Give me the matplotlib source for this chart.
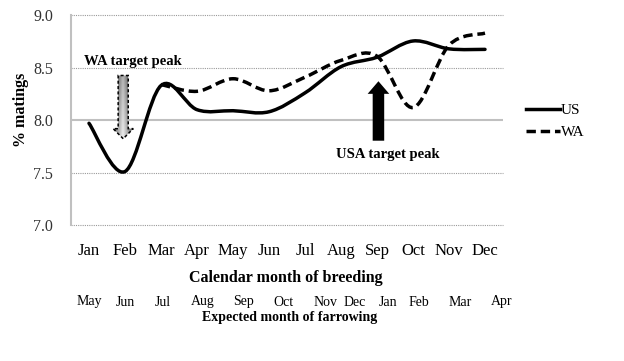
import numpy as np
import matplotlib
matplotlib.use("Agg")
import matplotlib.pyplot as plt
from matplotlib.path import Path
from matplotlib.patches import PathPatch, FancyArrow
from matplotlib.lines import Line2D
from matplotlib import transforms

plt.rcParams['font.family'] = ['Liberation Serif', 'DejaVu Serif']

# Data
months = ['Jan', 'Feb', 'Mar', 'Apr', 'May', 'Jun',
          'Jul', 'Aug', 'Sep', 'Oct', 'Nov', 'Dec']
farrow_months = ['May', 'Jun', 'Jul', 'Aug', 'Sep', 'Oct',
                 'Nov', 'Dec', 'Jan', 'Feb', 'Mar', 'Apr']
us_pct = [7.97, 7.51, 8.33, 8.10, 8.09, 8.08, 8.26, 8.51, 8.60, 8.755, 8.68, 8.675]
wa_pct = [np.nan, np.nan, 8.34, 8.275, 8.395, 8.28, 8.41, 8.57, 8.61, 8.12, 8.715, 8.83]
y_ticks = [7.0, 7.5, 8.0, 8.5, 9.0]

# Layout (category units for the farrowing row, which is unevenly spaced)
farrow_pos = [0.0, 1.0, 2.06, 3.15, 4.29, 5.40, 6.57, 7.38, 8.30, 9.16, 10.31, 11.45]


def smooth_path(x, y):
    '''Excel-like smoothed line: cubic Bezier segments through the points.'''
    pts = np.column_stack([x, y])
    n = len(pts)
    verts = [pts[0]]
    codes = [Path.MOVETO]
    for i in range(n - 1):
        p_prev = pts[max(i - 1, 0)]
        p_next2 = pts[min(i + 2, n - 1)]
        c1 = pts[i] + (pts[i + 1] - p_prev) / 6
        c2 = pts[i + 1] - (p_next2 - pts[i]) / 6
        verts += [c1, c2, pts[i + 1]]
        codes += [Path.CURVE4] * 3
    return Path(verts, codes)


fig = plt.figure(figsize=(6.24, 3.61), dpi=100)
ax = fig.add_axes([71 / 624, 1 - 225 / 361, 432 / 624, 209.7 / 361])
ax.set_xlim(-0.5, 11.5)
ax.set_ylim(7.0, 9.0)

# gridlines
for yv in y_ticks:
    if yv == 8.0:
        ax.axhline(yv, color='#c0c0c0', lw=1.5, zorder=1)
    else:
        ax.axhline(yv, color='#9a9a9a', lw=0.8, ls=(0, (1, 1)), zorder=1,
                   clip_on=False)

x = np.arange(len(months))
us = np.array(us_pct)
wa = np.array(wa_pct)
ok = ~np.isnan(wa)

line_lw = 2.5
wa_dash = (0, (2.7, 1.4))
ax.add_patch(PathPatch(smooth_path(x, us), fill=False, color='black',
                       lw=line_lw, zorder=4, capstyle='round'))
ax.add_patch(PathPatch(smooth_path(x[ok], wa[ok]), fill=False, color='black',
                       lw=line_lw, ls=wa_dash, zorder=4))

# WA target arrow (grey gradient, dashed outline)
wa_arrow = FancyArrow(0.95, 8.426, 0, -0.603, width=0.28, head_width=0.56,
                      head_length=0.096, length_includes_head=True,
                      facecolor='none', edgecolor='black', lw=1.1,
                      ls=(0, (2, 1.5)), zorder=3)
ax.add_patch(wa_arrow)
u = np.abs(np.linspace(-1, 1, 60))
v = np.linspace(0, 1, 60)[:, None]
grad = 0.95 - 0.6 * u[None, :] - 0.25 * (1 - v)
im = ax.imshow(grad, extent=[0.95 - 0.3, 0.95 + 0.3, 7.8, 8.45], cmap='gray',
               vmin=0, vmax=1, aspect='auto', origin='upper', zorder=2)
im.set_clip_path(wa_arrow)
ax.text(1.23, 8.563, 'WA target peak', ha='center', va='center',
        fontsize=10.5, fontweight='bold')

# USA target arrow
ax.add_patch(FancyArrow(8.04, 7.804, 0, 0.567, width=0.32, head_width=0.60,
                        head_length=0.12, length_includes_head=True,
                        color='black', lw=0, zorder=3))
ax.text(8.31, 7.67, 'USA target peak', ha='center', va='center',
        fontsize=10.5, fontweight='bold')

ax.set_xlim(-0.5, 11.5)
ax.set_ylim(7.0, 9.0)

# axes styling
for s in ['top', 'right', 'bottom']:
    ax.spines[s].set_visible(False)
ax.spines['left'].set_color('#c0c0c0')
ax.spines['left'].set_linewidth(1.5)
ax.set_xticks(x)
ax.set_xticklabels(months, fontsize=12)
ax.tick_params(axis='x', length=0, pad=13)
ax.set_yticks(y_ticks)
ax.set_yticklabels([f'{t:.1f}' for t in y_ticks], fontsize=11.5, color='#333333')
ax.tick_params(axis='y', length=0, pad=13)

fig.text(21 / 624, 1 - 110 / 361, '% matings', rotation=90, ha='center',
         va='center', fontsize=11.5, fontweight='bold')
fig.text(286 / 624, 1 - 278 / 361, 'Calendar month of breeding', ha='center',
         va='center', fontsize=11.5, fontweight='bold')
fig.text(290 / 624, 1 - 317 / 361, 'Expected month of farrowing', ha='center',
         va='center', fontsize=10, fontweight='bold')

trans = transforms.blended_transform_factory(ax.transData, fig.transFigure)
for pos, lab in zip(farrow_pos, farrow_months):
    ax.text(pos, 1 - 302 / 361, lab, transform=trans, ha='center', va='center',
            fontsize=10)

handles = [Line2D([], [], color='black', lw=line_lw),
           Line2D([], [], color='black', lw=line_lw, ls=wa_dash)]
fig.legend(handles, ['US', 'WA'], loc='center left',
           bbox_to_anchor=(526 / 624, 1 - 121.3 / 361), frameon=False,
           fontsize=11, handlelength=2.2, handletextpad=0.1, borderpad=0,
           borderaxespad=0, labelspacing=0.55)

fig.savefig('out.png', dpi=100)
